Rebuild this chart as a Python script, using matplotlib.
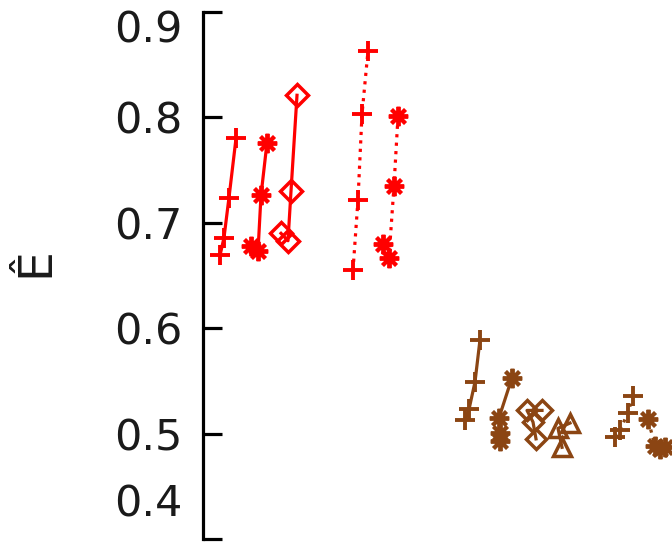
import matplotlib.pyplot as plt

# x positions are arbitrary offsets (no x axis shown), y is E-hat
s1_x = [1.7, 2.1, 2.6, 3.3]
s1_y = [0.669, 0.686, 0.724, 0.780]
s2_x = [4.8, 5.5, 5.8, 6.4]
s2_y = [0.678, 0.673, 0.726, 0.776]
s3_x = [7.8, 8.5, 8.8, 9.4]
s3_y = [0.690, 0.683, 0.730, 0.821]
s4_x = [15.0, 15.5, 15.9, 16.5]
s4_y = [0.655, 0.722, 0.803, 0.863]
s5_x = [18.0, 18.6, 19.1, 19.5]
s5_y = [0.680, 0.667, 0.735, 0.801]

b1_x = [26.2, 26.6, 27.2, 27.7]
b1_y = [0.513, 0.523, 0.549, 0.589]
b2_x = [29.7, 29.7, 29.6, 30.9]
b2_y = [0.493, 0.501, 0.515, 0.553]
b3_x = [33.3, 33.0, 32.4, 33.9]
b3_y = [0.495, 0.511, 0.522, 0.522]
b4_x = [35.9, 35.5, 36.7]
b4_y = [0.487, 0.505, 0.510]
b5_x = [41.2, 41.7, 42.5, 43.0]
b5_y = [0.497, 0.503, 0.520, 0.536]
b6_x = [46.2, 45.7, 45.2, 44.5]
b6_y = [0.487, 0.485, 0.488, 0.514]

yticks = [0.4, 0.5, 0.6, 0.7, 0.8, 0.9]

red = '#ff0000'
brown = '#8b4513'
star = (8, 2, 0)
txt = '#1a1a1a'

fig = plt.figure(figsize=(6.72, 5.44), dpi=100)
ax = fig.add_axes([203 / 672, 5 / 544, 1 - 203 / 672, 527 / 544])

kw = dict(lw=2.3, ms=14, mew=2.8, mfc='none')
ax.plot(s1_x, s1_y, '-', marker='+', color=red, **kw)
ax.plot(s2_x, s2_y, '-', marker=star, color=red, **kw)
ax.plot(s3_x, s3_y, '-', marker='D', color=red, lw=2.3, ms=11, mew=2.5, mfc='none')
ax.plot(s4_x, s4_y, ':', marker='+', color=red, **kw)
ax.plot(s5_x, s5_y, ':', marker=star, color=red, **kw)

ax.plot(b1_x, b1_y, '-', marker='+', color=brown, **kw)
ax.plot(b2_x, b2_y, '-', marker=star, color=brown, **kw)
ax.plot(b3_x, b3_y, '-', marker='D', color=brown, lw=2.3, ms=10, mew=2.5, mfc='none')
ax.plot(b4_x, b4_y, '-', marker='^', color=brown, lw=2.3, ms=13, mew=2.5, mfc='none')
ax.plot(b5_x, b5_y, ':', marker='+', color=brown, **kw)
ax.plot(b6_x, b6_y, ':', marker=star, color=brown, **kw)

ax.set_xlim(0, 46.9)
ax.set_ylim(0.4, 0.9)
ax.set_yticks(yticks)
# end labels sit inside the axis range, so they're drawn by hand below
ax.set_yticklabels(['' if t in (0.4, 0.9) else f'{t:.1f}' for t in yticks])
for sp in ['top', 'right', 'bottom']:
    ax.spines[sp].set_visible(False)
ax.spines['left'].set_linewidth(2.3)
ax.set_xticks([])
ax.tick_params(axis='y', direction='in', length=14, width=2.3, pad=15,
               labelsize=31, labelcolor=txt)

ax.annotate('0.9', xy=(0, 0.9), xycoords=('axes fraction', 'data'),
            xytext=(-15, -13), textcoords='offset points',
            ha='right', va='center', fontsize=31, color=txt)
ax.annotate('0.4', xy=(0, 0.4), xycoords=('axes fraction', 'data'),
            xytext=(-15, 25), textcoords='offset points',
            ha='right', va='center', fontsize=31, color=txt)

fig.text(36 / 672, 1 - 262 / 544, 'Ê', rotation=90, fontsize=34,
         ha='center', va='center', color=txt)

fig.savefig('out.png', dpi=100)
